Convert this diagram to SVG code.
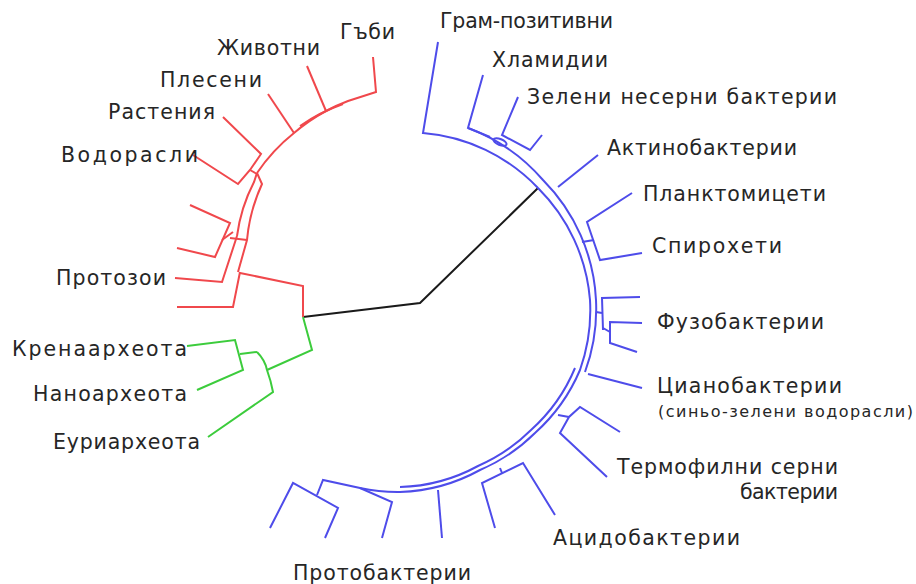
<svg xmlns="http://www.w3.org/2000/svg" width="916" height="584" viewBox="0 0 916 584">
<style>
.t{font-family:"DejaVu Sans","Liberation Sans",sans-serif;font-size:20.5px;fill:#262626}
.s{font-size:16px}
.r,.g,.b,.k{fill:none;stroke-width:2;stroke-linejoin:miter}
.r{stroke:#f0484c}
.g{stroke:#3ccc3c}
.b{stroke:#4e4cea}
.k{stroke:#1a1a1a}
</style>
<rect width="916" height="584" fill="#fff"/>
<g id="connectors">
<path class="k" d="M303,317 L420,303 L538,188"/>
<path class="r" d="M303,317 L303,286 L240,273"/>
<path class="r" d="M373,57 L376,92 L348,101 A180,180 0 0 0 326,111 A180,180 0 0 0 294,133 A180,180 0 0 0 257,173"/>
<path class="r" d="M343,104 A180,180 0 0 0 300,126" stroke-width="3.5"/>
<path class="r" d="M307,66 L326,111"/>
<path class="r" d="M268,94 L294,133"/>
<path class="r" d="M223,117 L261,154 L250,170 L238,184 L193,155"/>
<path class="r" d="M250,170 L257,174"/>
<path class="r" d="M257,173 L262,184 A170,170 0 0 0 247,240 L238,272"/>
<path class="r" d="M257,173 L254,182 A165,165 0 0 0 237,236"/>
<path class="r" d="M190,205 L230,223 L215,257 L177,248"/>
<path class="r" d="M222,240 L233,232" stroke-width="3"/>
<path class="r" d="M175,278 L222,282 L237,236"/>
<path class="r" d="M177,307 L233,307 L240,272"/>
<path class="r" d="M230,238 L247,240"/>
<path class="g" d="M303,317 L312,350 L267,370"/>
<path class="g" d="M257,352 Q265,360 267,370 Q271,381 273,392 L208,437"/>
<path class="g" d="M187,346 L235,340 L243,370 L197,390"/>
<path class="g" d="M240,354 L257,352"/>
<path class="b" d="M438,42 L423,133 A178,178 0 0 1 538,188 A178,178 0 0 1 590,300 A178,178 0 0 1 580,370 A178,178 0 0 1 535,433 A178,178 0 0 1 480,470 A178,178 0 0 1 400,492 A178,178 0 0 1 360,488"/>
<path class="b" d="M468,128 A183,183 0 0 1 543,180 A183,183 0 0 1 596,300 A183,183 0 0 1 585,372"/>
<path class="b" d="M575,368 A172,172 0 0 1 531,430 A172,172 0 0 1 478,466 A172,172 0 0 1 400,487"/>
<path class="b" d="M483,75 L468,128 L490,137"/>
<path class="b" d="M518,97 L502,135 L530,150 L542,135"/>
<ellipse class="b" cx="500" cy="142" rx="7" ry="3" transform="rotate(22 500 142)"/>
<path class="b" d="M598,155 L558,187"/>
<path class="b" d="M632,193 L587,222 L600,260 L642,253"/>
<path class="b" d="M594,240 L582,242"/>
<path class="b" d="M640,297 L602,298 L603,330"/>
<path class="b" d="M642,323 L610,322 L610,343 L637,352"/>
<path class="b" d="M603,328 L610,332"/>
<path class="b" d="M602,313 L596,312"/>
<path class="b" d="M642,388 L588,374"/>
<path class="b" d="M620,432 L580,407 L569,417 L560,433 L607,477"/>
<path class="b" d="M569,417 L558,415"/>
<path class="b" d="M555,515 L523,463 L482,483 L495,528"/>
<path class="b" d="M502,473 L500,468"/>
<path class="b" d="M442,538 L438,490"/>
<path class="b" d="M270,528 L293,483 L338,508 L325,538"/>
<path class="b" d="M317,495 L323,480 L360,488 L392,502 L382,538"/>
</g>
<g id="n-gubi"><text class="t" x="340" y="39" textLength="55">Гъби</text></g>
<g id="n-zhivotni"><text class="t" x="217" y="55" textLength="103">Животни</text></g>
<g id="n-pleseni"><text class="t" x="160" y="87" textLength="102">Плесени</text></g>
<g id="n-rastenia"><text class="t" x="108" y="119" textLength="107">Растения</text></g>
<g id="n-vodorasli"><text class="t" x="61" y="162" textLength="137">Водорасли</text></g>
<g id="n-protozoi"><text class="t" x="56" y="285" textLength="110">Протозои</text></g>
<g id="n-kren"><text class="t" x="12" y="356" textLength="175">Кренаархеота</text></g>
<g id="n-nano"><text class="t" x="33" y="401" textLength="154">Наноархеота</text></g>
<g id="n-euri"><text class="t" x="53" y="449" textLength="147">Еуриархеота</text></g>
<g id="n-gram"><text class="t" x="440" y="28" textLength="173">Грам-позитивни</text></g>
<g id="n-hlam"><text class="t" x="492" y="67" textLength="116">Хламидии</text></g>
<g id="n-zeleni"><text class="t" x="527" y="104" textLength="310">Зелени несерни бактерии</text></g>
<g id="n-aktino"><text class="t" x="607" y="155" textLength="190">Актинобактерии</text></g>
<g id="n-plank"><text class="t" x="643" y="201" textLength="183">Планктомицети</text></g>
<g id="n-spiro"><text class="t" x="652" y="253" textLength="130">Спирохети</text></g>
<g id="n-fuzo"><text class="t" x="657" y="329" textLength="167">Фузобактерии</text></g>
<g id="n-ciano"><text class="t" x="657" y="393" textLength="185">Цианобактерии</text><text class="t s" x="658" y="417" textLength="255">(синьо-зелени водорасли)</text></g>
<g id="n-termo"><text class="t" x="617" y="474" textLength="221">Термофилни серни</text><text class="t" x="740" y="499" textLength="98">бактерии</text></g>
<g id="n-acido"><text class="t" x="553" y="545" textLength="187">Ацидобактерии</text></g>
<g id="n-proto"><text class="t" x="293" y="580" textLength="178">Протобактерии</text></g>
</svg>
